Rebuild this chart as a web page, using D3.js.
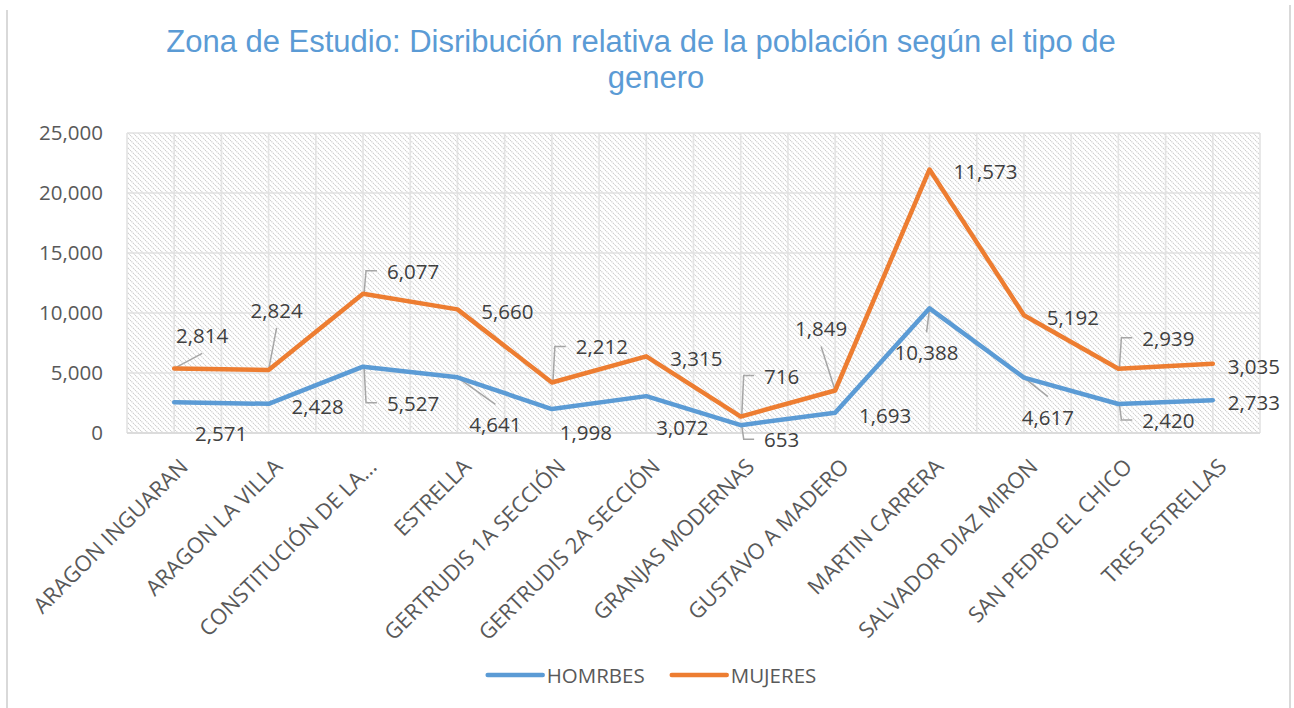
<!DOCTYPE html>
<html>
<head>
<meta charset="utf-8">
<script src="https://cdn.jsdelivr.net/npm/d3@7"></script>
<style>
  html, body { margin: 0; padding: 0; background: #fff; }
  svg { display: block; }
</style>
</head>
<body>
<svg id="chart" width="1294" height="708"></svg>
<script>
// ---------- data ----------
const categories = [
  "ARAGON INGUARAN", "ARAGON LA VILLA", "CONSTITUCIÓN DE LA...", "ESTRELLA",
  "GERTRUDIS 1A SECCIÓN", "GERTRUDIS 2A SECCIÓN", "GRANJAS MODERNAS",
  "GUSTAVO A MADERO", "MARTIN CARRERA", "SALVADOR DIAZ MIRON",
  "SAN PEDRO EL CHICO", "TRES ESTRELLAS"
];
const seriesNames = ["HOMRBES", "MUJERES"];
const hombres = [2571, 2428, 5527, 4641, 1998, 3072, 653, 1693, 10388, 4617, 2420, 2733];
const mujeres = [2814, 2824, 6077, 5660, 2212, 3315, 716, 1849, 11573, 5192, 2939, 3035];
const yTicks = [0, 5000, 10000, 15000, 20000, 25000];
const titleLines = ["Zona de Estudio: Disribución relativa de la población según el tipo de", "genero"];

// ---------- label placement (offset from the point, leader type) ----------
const labelPosH = [[47,31,"none"],[49,2,"none"],[50,36,"elbow"],[38,47,"line"],[34,23,"none"],[36,31,"none"],
                   [41,14,"elbow"],[50,2,"none"],[-3,44,"line"],[24,39,"line"],[50,16,"elbow"],[41,2,"none"]];
const labelPosM = [[28,-33,"line"],[8,-60,"line"],[50,-23,"elbow"],[50,2,"none"],[50,-36,"elbow"],[50,2,"none"],
                   [41,-41,"elbow"],[-14,-62,"line"],[56,2,"none"],[49,2,"none"],[50,-31,"elbow"],[41,2,"none"]];

const colors = ["#5B9BD5", "#ED7D31"];
const labelFont = "'Open Sans', 'Noto Sans', sans-serif";

const svg = d3.select("#chart");
const plot = { left: 127, right: 1260, top: 133, bottom: 433 };

// chart frame lines
svg.append("line").attr("x1", 7).attr("x2", 7).attr("y1", 10).attr("y2", 708)
  .attr("stroke", "#d9d9d9").attr("stroke-width", 2);
svg.append("line").attr("x1", 1290).attr("x2", 1290).attr("y1", 5).attr("y2", 708)
  .attr("stroke", "#d9d9d9").attr("stroke-width", 2);

// title
svg.append("g").selectAll("text").data(titleLines).join("text")
  .attr("x", (d, i) => i === 0 ? 641 : 656)
  .attr("y", (d, i) => 52 + i * 36)
  .attr("text-anchor", "middle")
  .attr("font-family", "'Liberation Sans', Arial, sans-serif")
  .attr("font-size", 31)
  .attr("fill", "#5B9BD5")
  .text(d => d);

// scales
const x = d3.scaleBand().domain(categories).range([plot.left, plot.right]).padding(0);
const bw = x.bandwidth();
const cx = c => x(c) + bw / 2;
const y = d3.scaleLinear().domain([0, 25000]).range([plot.bottom, plot.top]);

// hatch pattern
const defs = svg.append("defs");
const pat = defs.append("pattern").attr("id", "hatch")
  .attr("patternUnits", "userSpaceOnUse").attr("width", 5).attr("height", 5);
pat.append("rect").attr("width", 5).attr("height", 5).attr("fill", "#ffffff");
pat.append("path").attr("d", "M0,0 L5,5 M-1,4 L1,6 M4,-1 L6,1")
  .attr("stroke", "#cbcbcb").attr("stroke-width", 1.1).attr("stroke-dasharray", "1.2,0.9");

svg.append("rect").attr("x", plot.left).attr("y", plot.top)
  .attr("width", plot.right - plot.left).attr("height", plot.bottom - plot.top)
  .attr("fill", "url(#hatch)");

// gridlines
const vLines = [];
categories.forEach(c => { vLines.push(x(c)); vLines.push(cx(c)); });
vLines.push(plot.right);
svg.append("g").selectAll("line").data(vLines).join("line")
  .attr("x1", d => d).attr("x2", d => d).attr("y1", plot.top).attr("y2", plot.bottom)
  .attr("stroke", "#e3e3e3").attr("stroke-width", 1.6);
svg.append("g").selectAll("line").data(yTicks).join("line")
  .attr("x1", plot.left).attr("x2", plot.right).attr("y1", d => y(d)).attr("y2", d => y(d))
  .attr("stroke", "#e0e0e0").attr("stroke-width", 1.6);
svg.append("line").attr("x1", plot.left).attr("x2", plot.right)
  .attr("y1", y(0)).attr("y2", y(0)).attr("stroke", "#d9d9d9").attr("stroke-width", 1.6);

// y axis
const yAxis = svg.append("g").attr("transform", `translate(${plot.left},0)`)
  .call(d3.axisLeft(y).tickValues(yTicks).tickSize(0).tickPadding(24).tickFormat(d3.format(",")));
yAxis.select(".domain").remove();
yAxis.selectAll("text").attr("font-family", labelFont).attr("font-size", 20.5).attr("fill", "#595959");

// x axis
const xAxis = svg.append("g").attr("transform", `translate(0,${plot.bottom})`)
  .call(d3.axisBottom(x).tickSize(0).tickPadding(0));
xAxis.select(".domain").remove();
xAxis.selectAll("text")
  .attr("font-family", labelFont).attr("font-size", 21.8).attr("fill", "#595959")
  .attr("text-anchor", "end")
  .attr("transform", "translate(4,24) rotate(-45)")
  .attr("x", 0).attr("y", 0).attr("dy", "0.72em");

// stacked series
const rows = categories.map((c, i) => ({ cat: c, h: hombres[i], m: mujeres[i] }));
const stack = d3.stack().keys(["h", "m"])(rows);
const line = d3.line().x(d => cx(d.data.cat)).y(d => y(d[1])).curve(d3.curveLinear);

const leadG = svg.append("g");
svg.append("g").selectAll("path").data(stack).join("path")
  .attr("d", line)
  .attr("fill", "none")
  .attr("stroke", (d, i) => colors[i])
  .attr("stroke-width", 4.5)
  .attr("stroke-linejoin", "round")
  .attr("stroke-linecap", "round");
const labG = svg.append("g");

// data labels
const placements = [labelPosH, labelPosM];
const rawVals = [hombres, mujeres];
stack.forEach((s, si) => {
  s.forEach((d, i) => {
    const px = cx(d.data.cat), py = y(d[1]);
    const [dx, dy, kind] = placements[si][i];
    const lx = px + dx, ly = py + dy;
    const t = labG.append("text")
      .attr("x", lx).attr("y", ly)
      .attr("text-anchor", "middle").attr("dominant-baseline", "central")
      .attr("font-family", labelFont).attr("font-size", 20.5).attr("fill", "#404040")
      .text(d3.format(",")(rawVals[si][i]));
    const w = t.node().getComputedTextLength();
    let path = null;
    if (kind === "elbow") {
      path = `M${px + 1},${py} L${px + 3},${ly} L${lx - w / 2 - 10},${ly}`;
    } else if (kind === "line") {
      const ey = dy < 0 ? ly + 18 : ly - 20;
      path = `M${px},${py} L${lx},${ey}`;
    }
    if (path) {
      leadG.append("path").attr("d", path).attr("fill", "none")
        .attr("stroke", "#a6a6a6").attr("stroke-width", 1.5);
    }
  });
});

// legend
const legend = svg.append("g");
const items = legend.selectAll("g").data(seriesNames).join("g");
items.append("line").attr("x1", 0).attr("x2", 55).attr("y1", 0).attr("y2", 0)
  .attr("stroke", (d, i) => colors[i]).attr("stroke-width", 4.5).attr("stroke-linecap", "round");
items.append("text").attr("x", 59).attr("y", 0).attr("dominant-baseline", "central")
  .attr("font-family", labelFont).attr("font-size", 20.5).attr("fill", "#595959").text(d => d);
const widths = [];
items.each(function () { widths.push(59 + d3.select(this).select("text").node().getComputedTextLength()); });
const gap = 27;
const total = d3.sum(widths) + gap * (widths.length - 1);
const start = 652 - total / 2;
items.attr("transform", (d, i) => {
  const tx = start + d3.sum(widths.slice(0, i)) + gap * i;
  return `translate(${tx},675)`;
});
</script>
</body>
</html>
